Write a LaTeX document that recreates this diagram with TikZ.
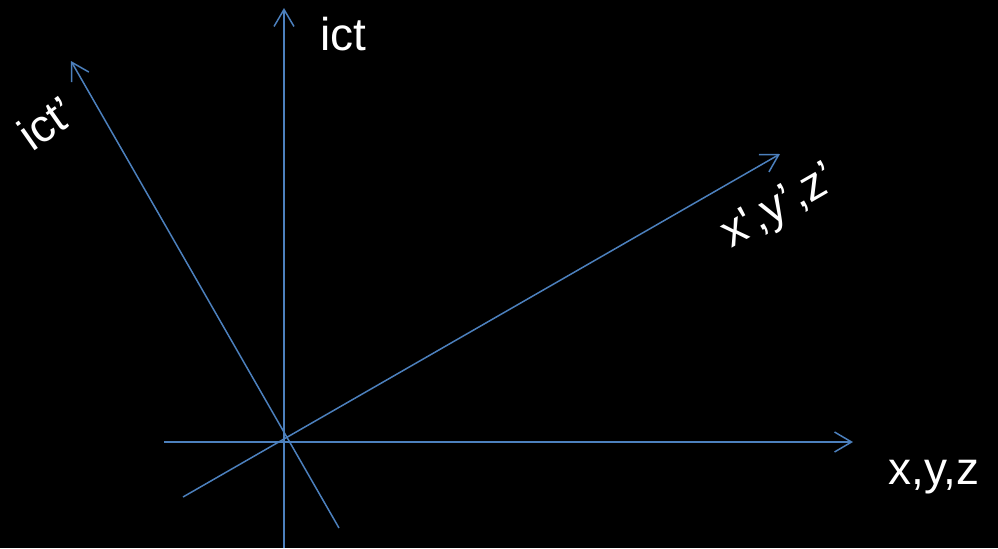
\documentclass[tikz,border=0pt]{standalone}
\usepackage{fontspec}
\setmainfont{Liberation Sans}
\usepackage{xcolor}
\usetikzlibrary{arrows.meta}
\definecolor{axisblue}{RGB}{76,128,189}

\begin{document}
\begin{tikzpicture}[
    x=0.5pt, y=-0.5pt,
    >={Straight Barb[length=8.5pt, width=10pt]},
    axis/.style={draw=axisblue, line width=0.75pt},
    lbl/.style={text=white, font=\fontsize{23}{27}\selectfont, inner sep=0pt}
  ]
    \fill[black] (0,0) rectangle (998,548);
    \useasboundingbox (0,0) rectangle (998,548);

    % axis end points
    \coordinate (ctbot) at (284,548);
    \coordinate (cttop) at (284,8);
    \coordinate (xleft) at (164,442);
    \coordinate (xright) at (853,442);
    \coordinate (xpbot) at (183,497);
    \coordinate (xptop) at (780,154);
    \coordinate (ctpbot) at (339,528);
    \coordinate (ctptop) at (71,61);

    \draw[axis,->] (ctbot) -- (cttop);
    \draw[axis,->] (xleft) -- (xright);
    \draw[axis,->] (xpbot) -- (xptop);
    \draw[axis,->] (ctpbot) -- (ctptop);

    % labels
    \node[lbl, anchor=base west] (ct) at (320,50) {ict};
    \node[lbl, anchor=base west] (xyz) at (888,484) {x,y,z};
    \node[lbl, rotate=30] (xyzp) at (780,208) {x\textquotesingle,y’,z’};
    \node[lbl, rotate=35] (ctp) at (46,123) {ict’};
\end{tikzpicture}
\end{document}
